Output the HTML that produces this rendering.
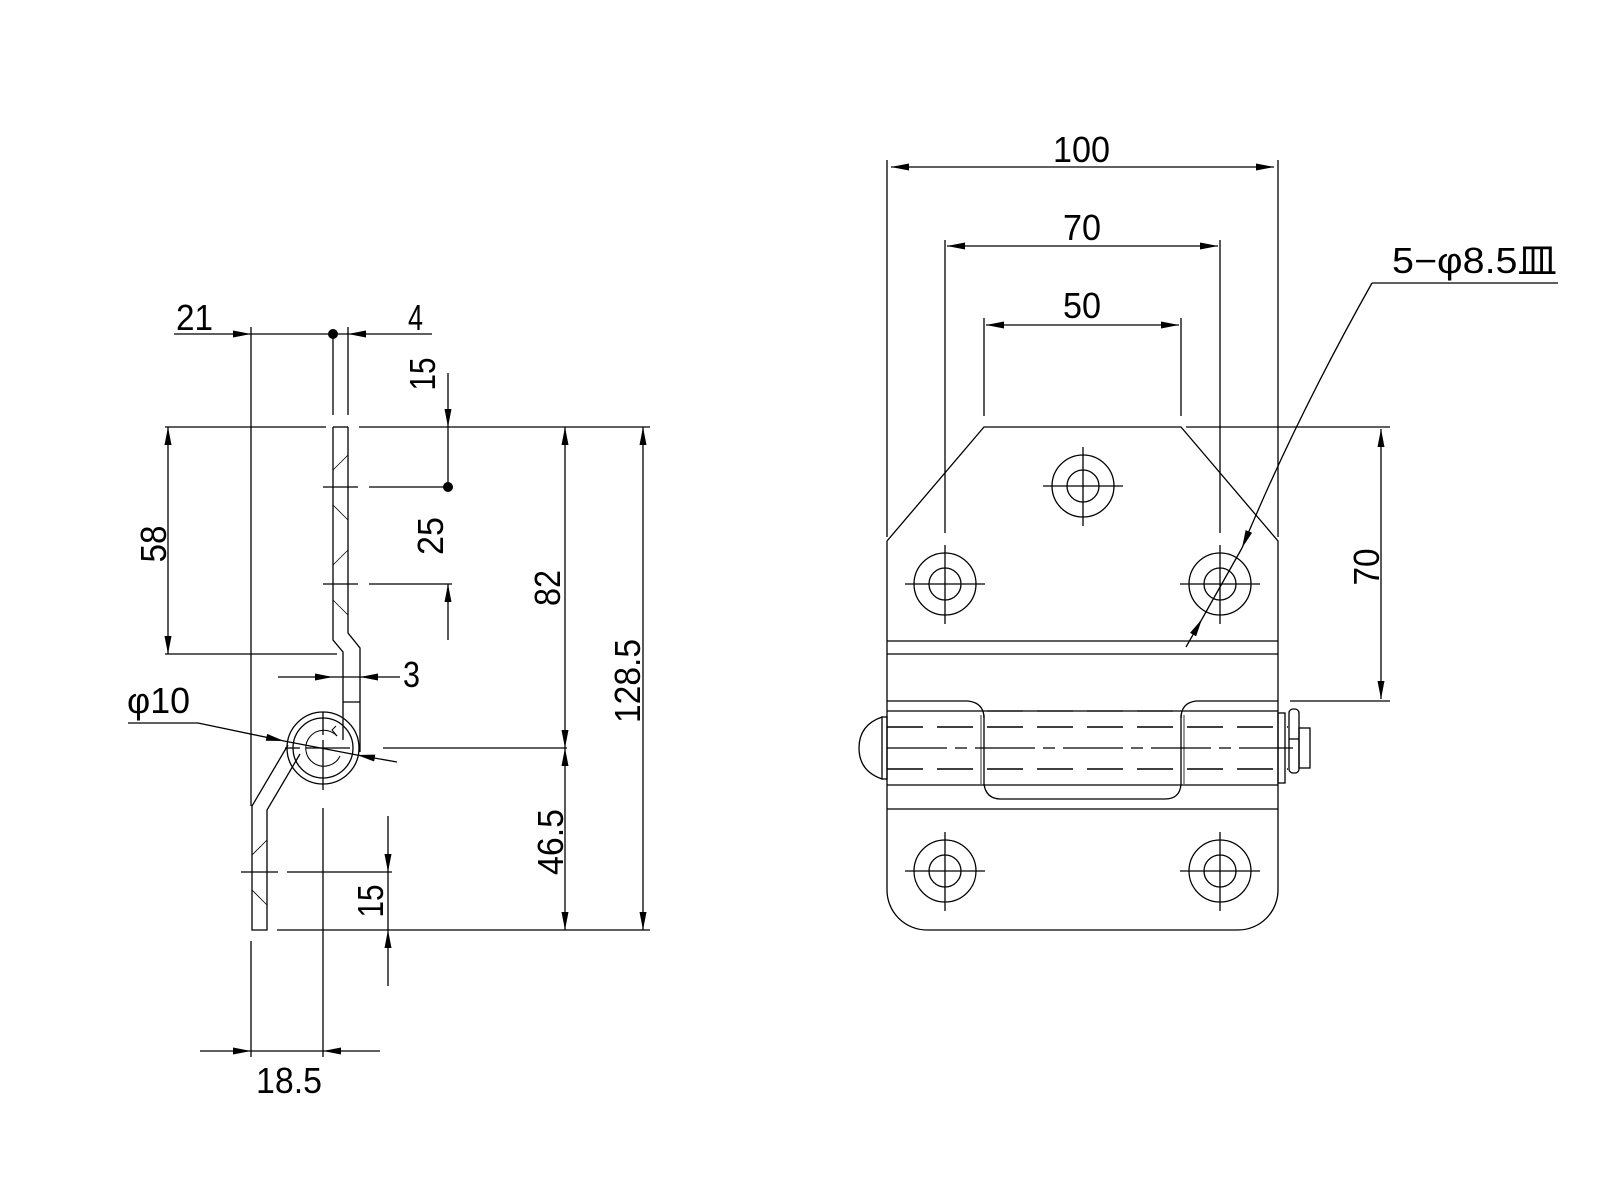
<!DOCTYPE html>
<html><head><meta charset="utf-8"><style>
html,body{margin:0;padding:0;background:#fff;}
svg{display:block;}
text{font-family:"Liberation Sans","Noto Sans CJK JP",sans-serif;font-size:36px;fill:#000;}
</style></head><body>
<svg width="1600" height="1200" viewBox="0 0 1600 1200" xmlns="http://www.w3.org/2000/svg">
<defs>
<marker id="a" viewBox="0 0 18 8" refX="18" refY="4" markerWidth="18" markerHeight="8" markerUnits="userSpaceOnUse" orient="auto-start-reverse"><path d="M0,0.5 L18,4 L0,7.5 Z" fill="#000"/></marker>
</defs>
<g stroke="#000" stroke-width="1.3" fill="none">
<!-- LEFT VIEW -->
<line x1="174" y1="334" x2="251" y2="334" marker-end="url(#a)"/>
<line x1="432" y1="334" x2="348" y2="334" marker-end="url(#a)"/>
<line x1="251" y1="334" x2="348" y2="334"/>
<line x1="251" y1="327" x2="251" y2="806"/>
<line x1="333" y1="334" x2="333" y2="415"/>
<line x1="348" y1="327" x2="348" y2="415"/>
<line x1="165" y1="427" x2="326" y2="427"/>
<line x1="359" y1="427" x2="650" y2="427"/>
<polyline points="333,427 348,427"/>
<polyline points="333,427 333,640 343,652 343,740"/>
<polyline points="348,427 348,633 360,648 360,752"/>
<line x1="343" y1="702" x2="360" y2="702"/>
<g stroke-width="0.8">
<line x1="333" y1="470" x2="348" y2="455"/><line x1="333" y1="505" x2="348" y2="520"/>
<line x1="333" y1="565" x2="348" y2="550"/><line x1="333" y1="600" x2="348" y2="615"/>
<line x1="252" y1="855" x2="267" y2="840"/><line x1="252" y1="890" x2="267" y2="905"/>
</g>
<line x1="323" y1="487" x2="358" y2="487"/><line x1="369" y1="487" x2="448" y2="487"/>
<line x1="323" y1="584" x2="358" y2="584"/><line x1="369" y1="584" x2="452" y2="584"/>
<line x1="448" y1="373" x2="448" y2="427" marker-end="url(#a)"/>
<line x1="448" y1="427" x2="448" y2="487"/>
<line x1="448" y1="640" x2="448" y2="584" marker-end="url(#a)"/>
<line x1="168" y1="427" x2="168" y2="654" marker-start="url(#a)" marker-end="url(#a)"/>
<line x1="165" y1="654" x2="337" y2="654"/>
<line x1="278" y1="677" x2="333" y2="677" marker-end="url(#a)"/>
<line x1="400" y1="677" x2="360" y2="677" marker-end="url(#a)"/>
<line x1="333" y1="677" x2="360" y2="677"/>
<circle cx="323" cy="748" r="36"/>
<circle cx="323" cy="748" r="30"/>
<path d="M337,736 A18,18 0 1 0 340,756" stroke-width="1"/>
<path d="M337,736 L332,730 L336,726" stroke-width="1"/>
<line x1="323" y1="712" x2="323" y2="735"/><line x1="323" y1="740" x2="323" y2="790"/>
<line x1="285" y1="748" x2="300" y2="748"/><line x1="306" y1="748" x2="350" y2="748"/>
<line x1="383" y1="748" x2="567" y2="748"/>
<line x1="565" y1="427" x2="565" y2="748" marker-start="url(#a)" marker-end="url(#a)"/>
<line x1="565" y1="748" x2="565" y2="930" marker-start="url(#a)" marker-end="url(#a)"/>
<line x1="643" y1="427" x2="643" y2="930" marker-start="url(#a)" marker-end="url(#a)"/>
<polyline points="288,745 252,806 252,930 267,930 267,810 300,754"/>
<line x1="241" y1="872" x2="278" y2="872"/><line x1="287" y1="872" x2="392" y2="872"/>
<line x1="388" y1="816" x2="388" y2="872" marker-end="url(#a)"/>
<line x1="388" y1="986" x2="388" y2="930" marker-end="url(#a)"/>
<line x1="388" y1="872" x2="388" y2="930"/>
<line x1="277" y1="930" x2="650" y2="930"/>
<line x1="251" y1="941" x2="251" y2="1057"/>
<line x1="323" y1="808" x2="323" y2="1057"/>
<line x1="200" y1="1051" x2="251" y2="1051" marker-end="url(#a)"/>
<line x1="380" y1="1051" x2="323" y2="1051" marker-end="url(#a)"/>
<line x1="251" y1="1051" x2="323" y2="1051"/>
<polyline points="128,723 198,723 284,741" marker-end="url(#a)"/>
<line x1="397" y1="762" x2="357" y2="755" marker-end="url(#a)"/>
<line x1="284" y1="741" x2="357" y2="755"/>

<!-- RIGHT VIEW -->
<line x1="891" y1="167" x2="1274" y2="167" marker-start="url(#a)" marker-end="url(#a)"/>
<line x1="887" y1="160" x2="887" y2="537"/><line x1="1278" y1="160" x2="1278" y2="537"/>
<line x1="947" y1="246" x2="1218" y2="246" marker-start="url(#a)" marker-end="url(#a)"/>
<line x1="945" y1="240" x2="945" y2="533"/><line x1="1220" y1="240" x2="1220" y2="533"/>
<line x1="986" y1="325" x2="1179" y2="325" marker-start="url(#a)" marker-end="url(#a)"/>
<line x1="984" y1="318" x2="984" y2="416"/><line x1="1181" y1="318" x2="1181" y2="416"/>
<path d="M887,541 L984,427 L1181,427 L1278,541 L1278,701"/>
<line x1="887" y1="541" x2="887" y2="890"/>
<path d="M887,890 A40,40 0 0 0 927,930 L1238,930 A40,40 0 0 0 1278,890 L1278,701"/>
<line x1="887" y1="641" x2="1278" y2="641"/><line x1="887" y1="654" x2="1278" y2="654"/>
<line x1="887" y1="701" x2="968" y2="701"/><path d="M968,701 Q984,703 984,718"/>
<line x1="1196" y1="701" x2="1278" y2="701"/><path d="M1196,701 Q1181,703 1181,718"/>
<line x1="887" y1="711" x2="1278" y2="711"/>
<line x1="887" y1="785" x2="1278" y2="785"/>
<line x1="887" y1="809" x2="1278" y2="809"/>
<path d="M984,715 L984,784 Q986,799 1001,799 L1165,799 Q1180,799 1181,784 L1181,715"/>
<path d="M981,715 L981,784 M1184,715 L1184,784" stroke-width="0.8"/>
<rect x="882" y="717" width="5" height="62"/>
<path d="M882,717 Q859,725 859,748 Q859,771 882,779"/>
<rect x="1278" y="713" width="7" height="70"/>
<rect x="1289" y="709" width="10" height="64" rx="4"/>
<rect x="1299" y="728" width="11" height="40"/>
<line x1="1289" y1="739" x2="1299" y2="739"/>
<g stroke-dasharray="36,14">
<line x1="887" y1="727" x2="1288" y2="727" stroke-width="1.6"/>
<line x1="887" y1="769" x2="1288" y2="769" stroke-width="1.6"/>
<line x1="987" y1="711" x2="1181" y2="711"/>
</g>
<line x1="887" y1="748" x2="1293" y2="748" stroke-dasharray="60,8,12,8"/>
<line x1="1290" y1="701" x2="1390" y2="701"/>
<line x1="1186" y1="427" x2="1390" y2="427"/>
<line x1="1381" y1="429" x2="1381" y2="699" marker-start="url(#a)" marker-end="url(#a)"/>
<g>
<circle cx="1083" cy="486" r="31"/><circle cx="1083" cy="486" r="16"/>
<line x1="1043" y1="486" x2="1123" y2="486"/><line x1="1083" y1="447" x2="1083" y2="526"/>
<circle cx="945" cy="584" r="31"/><circle cx="945" cy="584" r="16"/>
<line x1="905" y1="584" x2="985" y2="584"/><line x1="945" y1="545" x2="945" y2="624"/>
<circle cx="1220" cy="584" r="31"/><circle cx="1220" cy="584" r="16"/>
<line x1="1180" y1="584" x2="1260" y2="584"/><line x1="1220" y1="545" x2="1220" y2="624"/>
<circle cx="945" cy="871" r="31"/><circle cx="945" cy="871" r="16"/>
<line x1="905" y1="871" x2="985" y2="871"/><line x1="945" y1="832" x2="945" y2="911"/>
<circle cx="1220" cy="871" r="31"/><circle cx="1220" cy="871" r="16"/>
<line x1="1180" y1="871" x2="1260" y2="871"/><line x1="1220" y1="832" x2="1220" y2="911"/>
</g>
<line x1="1372" y1="283" x2="1558" y2="283"/>
<path d="M1372,283 Q1295,420 1242,548" marker-end="url(#a)"/>
<line x1="1186" y1="647" x2="1202" y2="619" marker-end="url(#a)"/>
<line x1="1202" y1="619" x2="1242" y2="548"/>
</g>
<g fill="#000">
<circle cx="333" cy="334" r="5"/>
<circle cx="448" cy="487" r="5"/>
</g>
<text x="176" y="330" textLength="37" lengthAdjust="spacingAndGlyphs">21</text>
<text x="408" y="330" textLength="15" lengthAdjust="spacingAndGlyphs">4</text>
<text x="403" y="687" textLength="17" lengthAdjust="spacingAndGlyphs">3</text>
<text x="127" y="713" textLength="63" lengthAdjust="spacingAndGlyphs">φ10</text>
<text x="256" y="1093" textLength="66" lengthAdjust="spacingAndGlyphs">18.5</text>
<text transform="translate(435,374) rotate(-90)" text-anchor="middle" textLength="33" lengthAdjust="spacingAndGlyphs">15</text>
<text transform="translate(443,536) rotate(-90)" text-anchor="middle" textLength="38" lengthAdjust="spacingAndGlyphs">25</text>
<text transform="translate(166,544) rotate(-90)" text-anchor="middle" textLength="37" lengthAdjust="spacingAndGlyphs">58</text>
<text transform="translate(560,588) rotate(-90)" text-anchor="middle" textLength="36" lengthAdjust="spacingAndGlyphs">82</text>
<text transform="translate(563,842) rotate(-90)" text-anchor="middle" textLength="66" lengthAdjust="spacingAndGlyphs">46.5</text>
<text transform="translate(640,681) rotate(-90)" text-anchor="middle" textLength="84" lengthAdjust="spacingAndGlyphs">128.5</text>
<text transform="translate(383,901) rotate(-90)" text-anchor="middle" textLength="33" lengthAdjust="spacingAndGlyphs">15</text>
<text transform="translate(1379,567) rotate(-90)" text-anchor="middle" textLength="37" lengthAdjust="spacingAndGlyphs">70</text>
<text x="1053" y="162" textLength="57" lengthAdjust="spacingAndGlyphs">100</text>
<text x="1063" y="240" textLength="38" lengthAdjust="spacingAndGlyphs">70</text>
<text x="1063" y="318" textLength="38" lengthAdjust="spacingAndGlyphs">50</text>
<text x="1392" y="273" textLength="165" lengthAdjust="spacingAndGlyphs">5−φ8.5皿</text>
</svg>
</body></html>
